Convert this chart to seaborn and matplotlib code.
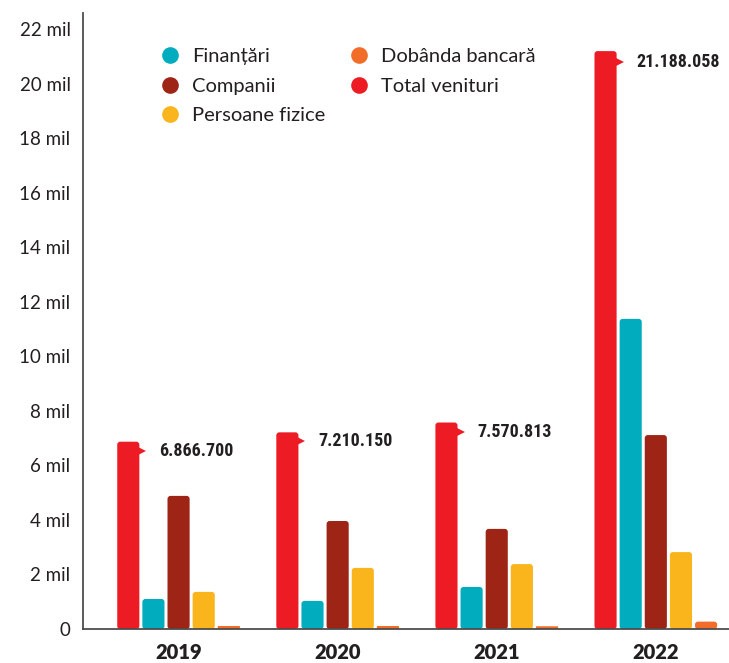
import matplotlib
matplotlib.use("Agg")
import matplotlib.pyplot as plt
from matplotlib import font_manager
from matplotlib.patches import FancyBboxPatch
from matplotlib.lines import Line2D
import matplotlib.transforms as mtransforms
import seaborn as sns
import pandas as pd

years = ["2019", "2020", "2021", "2022"]
categories = ["Total venituri", "Finanțări", "Companii", "Persoane fizice", "Dobânda bancară"]
total_venituri = [6.8667, 7.21015, 7.570813, 21.188058]
finantari = [1.10, 1.03, 1.54, 11.37]
companii = [4.88, 3.96, 3.67, 7.11]
persoane_fizice = [1.36, 2.24, 2.38, 2.82]
dobanda = [0.11, 0.11, 0.10, 0.27]
total_labels = ["6.866.700", "7.210.150", "7.570.813", "21.188.058"]
yticks = list(range(0, 23, 2))
ytick_labels = ["0"] + [f"{v} mil" for v in yticks[1:]]

colors = {
    "Total venituri": "#ED1C24",
    "Finanțări": "#00ACBD",
    "Companii": "#9E2416",
    "Persoane fizice": "#F9B51B",
    "Dobânda bancară": "#F26C2A",
}
legend_order = ["Finanțări", "Companii", "Persoane fizice", "Dobânda bancară", "Total venituri"]

rows = []
series = [total_venituri, finantari, companii, persoane_fizice, dobanda]
for cat, vals in zip(categories, series):
    for y, v in zip(years, vals):
        rows.append({"An": y, "Categorie": cat, "Valoare": v})
df = pd.DataFrame(rows)

sns.set_theme(style="white")
plt.rcParams["font.family"] = ["Lato", "DejaVu Sans"]

avail = {f.name for f in font_manager.fontManager.ttflist}
cond_family = None
for fam in ["Roboto Condensed", "Liberation Sans Narrow", "Open Sans Condensed", "DejaVu Sans"]:
    if fam in avail:
        cond_family = fam
        break

fig = plt.figure(figsize=(7.29, 6.63), dpi=100)
ax = fig.add_axes([0.114, 0.0513, 0.886, 0.9297])

sns.barplot(data=df, x="An", y="Valoare", hue="Categorie", hue_order=categories,
            palette=colors, order=years, width=0.79, gap=0.12, ax=ax,
            legend=False, saturation=1)

ax.set_xlim(-0.60, 3.46)
ax.set_ylim(0, 22.6)

# rounded bars
px_per_x = 0.886 * 729 / (3.46 + 0.60)
px_per_y = 0.9297 * 663 / 22.6
aspect = px_per_x / px_per_y
bars = list(ax.patches)
for p in bars:
    x, y = p.get_x(), p.get_y()
    w, h = p.get_width(), p.get_height()
    fc = p.get_facecolor()
    p.remove()
    r = 3.0 / px_per_x
    rmax = min(w / 2, (h / aspect) / 2)
    r = max(min(r, rmax * 0.9), 0.0)
    if h * px_per_y < 4:
        r = 0.0
    fb = FancyBboxPatch((x, y), w, h, boxstyle=f"round,pad=0,rounding_size={r}",
                        mutation_aspect=aspect, facecolor=fc, edgecolor="none",
                        zorder=2, antialiased=True)
    ax.add_patch(fb)

# labels with notch on total bars
red_bars = bars[:4]
for p, lab in zip(red_bars, total_labels):
    xr = p.get_x() + p.get_width()
    top = p.get_height()
    off = -6.5 if top < 15 else -7.5
    ln, = ax.plot([xr], [top], marker=">", markersize=10, color=colors["Total venituri"],
                  linestyle="none", zorder=3, markeredgewidth=0)
    ln.set_transform(ax.transData + mtransforms.ScaledTranslation(
        0, off / 72, fig.dpi_scale_trans))
    kw = dict(fontsize=13, fontweight="bold", color="#231F20")
    if cond_family == "DejaVu Sans":
        kw["fontstretch"] = "condensed"
    ax.annotate(lab, xy=(xr, top), xytext=(14, off), textcoords="offset points",
                ha="left", va="center", family=[cond_family], **kw)

# axes styling
for s in ["top", "right"]:
    ax.spines[s].set_visible(False)
ax.spines["left"].set_color("#4d4d4d")
ax.spines["left"].set_linewidth(1.3)
ax.spines["bottom"].set_color("#4d4d4d")
ax.spines["bottom"].set_linewidth(1.3)
ax.set_yticks(yticks)
ax.set_yticklabels(ytick_labels)
ax.tick_params(axis="y", direction="in", length=8, width=1.2, color="#4d4d4d",
               labelsize=13.5, labelcolor="#231F20", pad=9)
ax.tick_params(axis="x", length=0, labelsize=14.5, labelcolor="#231F20", pad=10)
for t in ax.get_xticklabels():
    t.set_fontweight("heavy")
ax.set_xlabel("")
ax.set_ylabel("")
ax.grid(False)

handles = [Line2D([0], [0], marker="o", linestyle="none", markersize=12,
                  markerfacecolor=colors[c], markeredgewidth=0) for c in legend_order]
leg = ax.legend(handles, legend_order, ncol=2, loc="upper left",
                bbox_to_anchor=(0.088, 0.972), frameon=False, fontsize=14.5,
                labelcolor="#231F20", handletextpad=0.5, columnspacing=1.05,
                labelspacing=0.62, handlelength=1.2)

fig.savefig("out.png", dpi=100)
